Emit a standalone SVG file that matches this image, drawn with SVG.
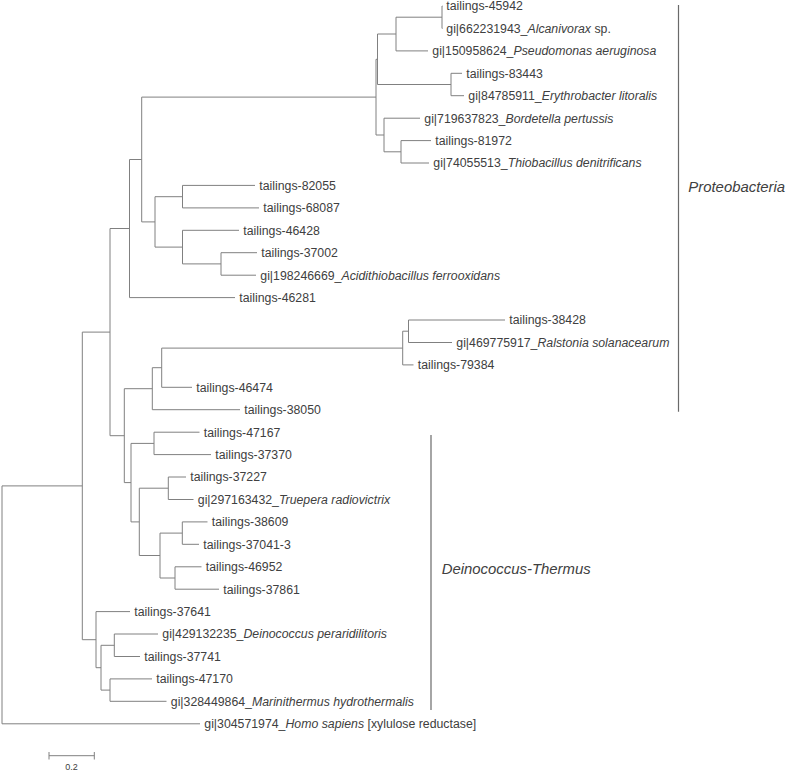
<svg xmlns="http://www.w3.org/2000/svg" width="787" height="771" viewBox="0 0 787 771">
<style>
.br{fill:none;stroke:#808080;stroke-width:1}
.cl{fill:none;stroke:#6a6a6a;stroke-width:1.2}
.lb{font-family:"Liberation Sans",Arial,sans-serif;font-size:12.3px;fill:#404040}
.it{font-style:italic}
.cn{font-family:"Liberation Sans",Arial,sans-serif;font-size:14.9px;font-style:italic;fill:#404040}
.sc{font-family:"Liberation Sans",Arial,sans-serif;font-size:9px;fill:#404040}
</style>
<rect width="787" height="771" fill="#ffffff"/>
<g id="connectors">
<path class="br" d="M2,485.9V723.8M2,485.9H82.3M2,723.8H200"/>
<path class="br" d="M82.3,332.1V639.7M82.3,332.1H110M82.3,639.7H96"/>
<path class="br" d="M110,228.5V435.7M110,228.5H129.5M110,435.7H124.3"/>
<path class="br" d="M129.5,159.5V297.6M129.5,159.5H141.7M129.5,297.6H235"/>
<path class="br" d="M141.7,97.1V221.9M141.7,97.1H376M141.7,221.9H155"/>
<path class="br" d="M376,59.3V135M376,59.3H377.5M376,135H384"/>
<path class="br" d="M377.5,34V84.5M377.5,34H396M377.5,84.5H451"/>
<path class="br" d="M396,17.2V50.9M396,17.2H442M396,50.9H428"/>
<path class="br" d="M442,6V28.4M442,6H442.5M442,28.4H442.5"/>
<path class="br" d="M451,73.3V95.7M451,73.3H462M451,95.7H464"/>
<path class="br" d="M384,118.2V151.8M384,118.2H420M384,151.8H401"/>
<path class="br" d="M401,140.6V163M401,140.6H431M401,163H429"/>
<path class="br" d="M155,196.7V247.1M155,196.7H182.5M155,247.1H182.5"/>
<path class="br" d="M182.5,185.4V207.9M182.5,185.4H255M182.5,207.9H259"/>
<path class="br" d="M182.5,230.3V263.9M182.5,230.3H239M182.5,263.9H221"/>
<path class="br" d="M221,252.7V275.2M221,252.7H257M221,275.2H256"/>
<path class="br" d="M124.3,388.7V482.6M124.3,388.7H152.3M124.3,482.6H131"/>
<path class="br" d="M152.3,367.7V409.7M152.3,367.7H161.7M152.3,409.7H240"/>
<path class="br" d="M161.7,348.1V387.3M161.7,348.1H402.7M161.7,387.3H192"/>
<path class="br" d="M402.7,331.2V364.9M402.7,331.2H408.5M402.7,364.9H413.5"/>
<path class="br" d="M408.5,320V342.5M408.5,320H505M408.5,342.5H452"/>
<path class="br" d="M131,443.4V521.9M131,443.4H154M131,521.9H139.3"/>
<path class="br" d="M154,432.2V454.6M154,432.2H199.5M154,454.6H211"/>
<path class="br" d="M139.3,488.2V555.5M139.3,488.2H168.3M139.3,555.5H160"/>
<path class="br" d="M168.3,477V499.5M168.3,477H186M168.3,499.5H193.5"/>
<path class="br" d="M160,533.1V578M160,533.1H182.3M160,578H175"/>
<path class="br" d="M182.3,521.9V544.3M182.3,521.9H207.5M182.3,544.3H199"/>
<path class="br" d="M175,566.8V589.2M175,566.8H201.5M175,589.2H219"/>
<path class="br" d="M96,611.6V667.7M96,611.6H130M96,667.7H101"/>
<path class="br" d="M101,645.3V690.1M101,645.3H114.3M101,690.1H110"/>
<path class="br" d="M114.3,634V656.5M114.3,634H158M114.3,656.5H140"/>
<path class="br" d="M110,678.9V701.3M110,678.9H152M110,701.3H166.5"/>
</g>
<g id="leaf-1"><text class="lb" x="446.3" y="10.4">tailings-45942</text></g>
<g id="leaf-2"><text class="lb" x="446.3" y="32.8">gi|662231943_<tspan class="it">Alcanivorax</tspan> sp.</text></g>
<g id="leaf-3"><text class="lb" x="432.3" y="55.3">gi|150958624_<tspan class="it">Pseudomonas aeruginosa</tspan></text></g>
<g id="leaf-4"><text class="lb" x="466.3" y="77.7">tailings-83443</text></g>
<g id="leaf-5"><text class="lb" x="468.3" y="100.1">gi|84785911_<tspan class="it">Erythrobacter litoralis</tspan></text></g>
<g id="leaf-6"><text class="lb" x="424.3" y="122.6">gi|719637823_<tspan class="it">Bordetella pertussis</tspan></text></g>
<g id="leaf-7"><text class="lb" x="435.3" y="145">tailings-81972</text></g>
<g id="leaf-8"><text class="lb" x="433.3" y="167.4">gi|74055513_<tspan class="it">Thiobacillus denitrificans</tspan></text></g>
<g id="leaf-9"><text class="lb" x="259.3" y="189.8">tailings-82055</text></g>
<g id="leaf-10"><text class="lb" x="263.3" y="212.3">tailings-68087</text></g>
<g id="leaf-11"><text class="lb" x="243.3" y="234.7">tailings-46428</text></g>
<g id="leaf-12"><text class="lb" x="261.3" y="257.1">tailings-37002</text></g>
<g id="leaf-13"><text class="lb" x="260.3" y="279.6">gi|198246669_<tspan class="it">Acidithiobacillus ferrooxidans</tspan></text></g>
<g id="leaf-14"><text class="lb" x="239.3" y="302">tailings-46281</text></g>
<g id="leaf-15"><text class="lb" x="509.3" y="324.4">tailings-38428</text></g>
<g id="leaf-16"><text class="lb" x="456.3" y="346.9">gi|469775917_<tspan class="it">Ralstonia solanacearum</tspan></text></g>
<g id="leaf-17"><text class="lb" x="417.8" y="369.3">tailings-79384</text></g>
<g id="leaf-18"><text class="lb" x="196.3" y="391.7">tailings-46474</text></g>
<g id="leaf-19"><text class="lb" x="244.3" y="414.1">tailings-38050</text></g>
<g id="leaf-20"><text class="lb" x="203.8" y="436.6">tailings-47167</text></g>
<g id="leaf-21"><text class="lb" x="215.3" y="459">tailings-37370</text></g>
<g id="leaf-22"><text class="lb" x="190.3" y="481.4">tailings-37227</text></g>
<g id="leaf-23"><text class="lb" x="197.8" y="503.9">gi|297163432_<tspan class="it">Truepera radiovictrix</tspan></text></g>
<g id="leaf-24"><text class="lb" x="211.8" y="526.3">tailings-38609</text></g>
<g id="leaf-25"><text class="lb" x="203.3" y="548.7">tailings-37041-3</text></g>
<g id="leaf-26"><text class="lb" x="205.8" y="571.2">tailings-46952</text></g>
<g id="leaf-27"><text class="lb" x="223.3" y="593.6">tailings-37861</text></g>
<g id="leaf-28"><text class="lb" x="134.3" y="616">tailings-37641</text></g>
<g id="leaf-29"><text class="lb" x="162.3" y="638.4">gi|429132235_<tspan class="it">Deinococcus peraridilitoris</tspan></text></g>
<g id="leaf-30"><text class="lb" x="144.3" y="660.9">tailings-37741</text></g>
<g id="leaf-31"><text class="lb" x="156.3" y="683.3">tailings-47170</text></g>
<g id="leaf-32"><text class="lb" x="170.8" y="705.7">gi|328449864_<tspan class="it">Marinithermus hydrothermalis</tspan></text></g>
<g id="leaf-33"><text class="lb" x="204.3" y="728.2">gi|304571974_<tspan class="it">Homo sapiens</tspan> [xylulose reductase]</text></g>
<g id="clade-proteobacteria">
<path class="cl" d="M678.5,5V411.7"/>
<text class="cn" x="688.3" y="192">Proteobacteria</text>
</g>
<g id="clade-deinococcus-thermus">
<path class="cl" d="M431,435V710"/>
<text class="cn" x="441.7" y="573.6">Deinococcus-Thermus</text>
</g>
<g id="scale-bar">
<path class="br" d="M49,755.7H94.3M49,752V759.5M94.3,752V759.5"/>
<text class="sc" x="71.6" y="769.5" text-anchor="middle">0.2</text>
</g>
</svg>
